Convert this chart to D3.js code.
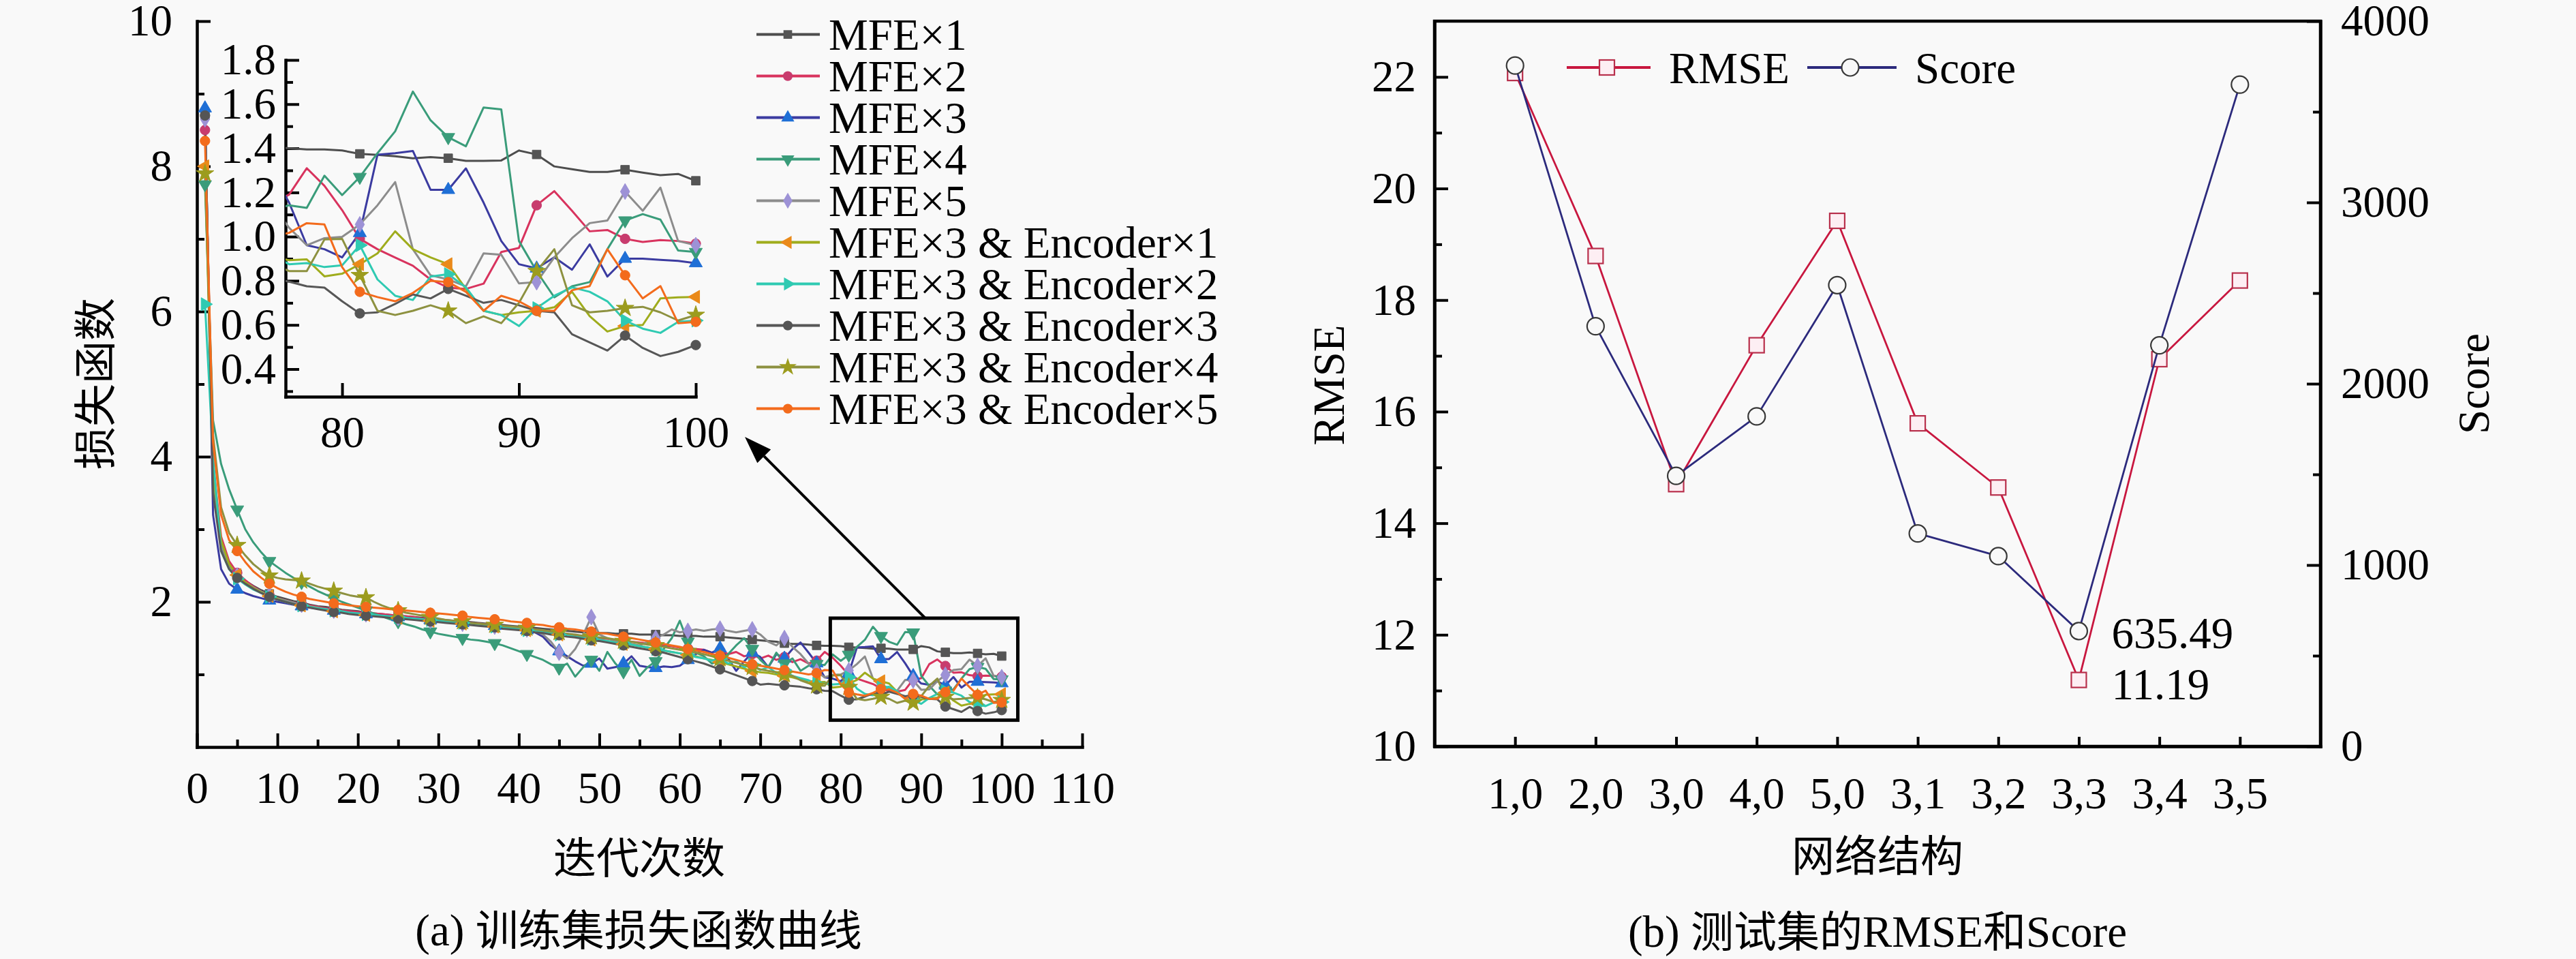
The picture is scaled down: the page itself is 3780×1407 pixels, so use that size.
<!DOCTYPE html>
<meta charset="utf-8">
<title>训练集损失函数曲线 / 测试集的RMSE和Score</title>
<script src="https://d3js.org/d3.v7.min.js"></script>
<style>
    body { margin: 0; background: #f9f9f9; }
    svg text { font-family: "Liberation Serif", "Times New Roman", "DejaVu Serif", serif; font-size: 65px; fill: #000; }
    svg text.cjk { font-family: "Noto Sans CJK SC", sans-serif; font-size: 63px; }
    .axis .domain { stroke: #000; stroke-width: 4.5px; stroke-linecap: square; }
    .axis line { stroke: #000; stroke-width: 4px; }
    .line { fill: none; stroke-width: 3px; stroke-linejoin: round; }
</style>
<body>
<script>
    // ---- data: training loss per epoch (1..100) ----
    var mfe1 = [8.70, 3.60, 2.75, 2.50, 2.38, 2.29, 2.22, 2.16, 2.11, 2.07,
        2.04, 2.01, 1.99, 1.96, 1.94, 1.93, 1.91, 1.89, 1.88, 1.87,
        1.85, 1.84, 1.83, 1.82, 1.81, 1.80, 1.79, 1.78, 1.77, 1.76,
        1.75, 1.74, 1.73, 1.72, 1.71, 1.70, 1.69, 1.68, 1.67, 1.66,
        1.65, 1.64, 1.63, 1.62, 1.61, 1.60, 1.59, 1.58, 1.58, 1.57,
        1.57, 1.56, 1.56, 1.56, 1.55, 1.55, 1.55, 1.54, 1.54, 1.53,
        1.53, 1.53, 1.52, 1.52, 1.52, 1.51, 1.50, 1.49, 1.48, 1.47,
        1.46, 1.45, 1.43, 1.42, 1.42, 1.41, 1.40, 1.395, 1.395, 1.39,
        1.375, 1.37, 1.364, 1.355, 1.36, 1.355, 1.343, 1.343, 1.345, 1.39,
        1.372, 1.318, 1.305, 1.293, 1.293, 1.303, 1.29, 1.278, 1.284, 1.253];
    var mfe2 = [8.50, 3.90, 2.90, 2.56, 2.40, 2.30, 2.21, 2.14, 2.09, 2.05,
        2.02, 1.99, 1.97, 1.95, 1.93, 1.91, 1.90, 1.88, 1.87, 1.86,
        1.85, 1.84, 1.83, 1.82, 1.81, 1.80, 1.79, 1.77, 1.76, 1.75,
        1.74, 1.73, 1.72, 1.71, 1.70, 1.69, 1.68, 1.66, 1.65, 1.64,
        1.63, 1.62, 1.60, 1.59, 1.57, 1.56, 1.54, 1.53, 1.52, 1.50,
        1.49, 1.48, 1.47, 1.45, 1.44, 1.43, 1.42, 1.40, 1.39, 1.37,
        1.36, 1.35, 1.34, 1.30, 1.33, 1.28, 1.31, 1.25, 1.28, 1.22,
        1.26, 1.20, 1.24, 1.17, 1.21, 1.15, 1.19, 1.31, 1.23, 1.12,
        0.99, 0.943, 0.905, 0.868, 0.806, 0.769, 0.763, 0.787, 0.93, 0.949,
        1.142, 1.206, 1.117, 1.024, 1.03, 0.99, 0.976, 0.984, 0.98, 0.968];
    var mfe3 = [8.80, 3.20, 2.45, 2.25, 2.17, 2.12, 2.08, 2.05, 2.02, 2.00,
        1.98, 1.96, 1.94, 1.92, 1.91, 1.89, 1.88, 1.86, 1.85, 1.84,
        1.83, 1.82, 1.81, 1.80, 1.79, 1.78, 1.77, 1.76, 1.75, 1.74,
        1.73, 1.72, 1.71, 1.70, 1.69, 1.68, 1.67, 1.66, 1.64, 1.63,
        1.61, 1.58, 1.52, 1.40, 1.32, 1.25, 1.18, 1.12, 1.15, 1.22,
        1.08, 1.10, 1.15, 1.25, 1.12, 1.10, 1.09, 1.11, 1.10, 1.12,
        1.20, 1.28, 1.34, 1.30, 1.36, 1.22, 1.05, 1.18, 1.30, 1.24,
        1.10, 1.28, 1.22, 1.35, 1.44, 1.30, 1.154, 0.961, 0.943, 0.906,
        1.017, 1.371, 1.378, 1.388, 1.212, 1.212, 1.309, 1.154, 0.98, 0.875,
        0.856, 0.906, 0.85, 0.965, 0.819, 0.90, 0.90, 0.895, 0.89, 0.88];
    var mfe4 = [7.75, 4.50, 3.90, 3.55, 3.27, 3.00, 2.82, 2.68, 2.56, 2.48,
        2.40, 2.33, 2.27, 2.21, 2.15, 2.10, 2.05, 2.00, 1.96, 1.92,
        1.88, 1.84, 1.80, 1.76, 1.73, 1.69, 1.66, 1.62, 1.59, 1.56,
        1.54, 1.52, 1.50, 1.48, 1.47, 1.45, 1.43, 1.40, 1.36, 1.32,
        1.28, 1.24, 1.20, 1.14, 1.09, 1.15, 0.97, 1.10, 1.20, 1.05,
        1.31, 1.15, 1.04, 1.20, 0.98, 1.10, 1.18, 1.35, 1.50, 1.74,
        1.45, 1.30, 1.25, 1.15, 1.20, 1.28, 1.40, 1.50, 1.35, 1.20,
        1.10, 1.30, 1.15, 1.22, 1.05, 1.12, 1.142, 1.13, 1.276, 1.188,
        1.27, 1.378, 1.477, 1.657, 1.527, 1.45, 1.409, 1.585, 1.576, 0.98,
        0.843, 0.725, 0.775, 0.794, 0.943, 1.073, 1.102, 1.077, 0.937, 0.93];
    var mfe5 = [8.65, 3.70, 2.80, 2.48, 2.36, 2.27, 2.20, 2.14, 2.09, 2.05,
        2.02, 1.99, 1.96, 1.94, 1.92, 1.90, 1.88, 1.86, 1.85, 1.84,
        1.83, 1.82, 1.80, 1.79, 1.78, 1.77, 1.76, 1.75, 1.74, 1.73,
        1.72, 1.71, 1.70, 1.69, 1.68, 1.67, 1.66, 1.65, 1.64, 1.63,
        1.62, 1.60, 1.55, 1.45, 1.30, 1.22, 1.35, 1.55, 1.79, 1.55,
        1.50, 1.45, 1.48, 1.42, 1.40, 1.45, 1.50, 1.55, 1.62, 1.58,
        1.60, 1.62, 1.60, 1.62, 1.63, 1.60, 1.58, 1.60, 1.62, 1.55,
        1.45, 1.40, 1.50, 1.38, 1.28, 1.15, 1.04, 0.961, 0.993, 0.999,
        1.055, 1.142, 1.247, 0.943, 0.825, 0.806, 0.775, 0.924, 0.918, 0.788,
        0.794, 0.906, 0.993, 1.061, 1.073, 1.204, 1.117, 1.222, 0.98, 0.961];
    var enc1 = [8.00, 3.80, 2.85, 2.52, 2.37, 2.27, 2.19, 2.13, 2.08, 2.04,
        2.00, 1.97, 1.95, 1.93, 1.91, 1.89, 1.87, 1.86, 1.84, 1.83,
        1.82, 1.81, 1.80, 1.79, 1.78, 1.77, 1.76, 1.75, 1.74, 1.73,
        1.72, 1.71, 1.70, 1.69, 1.68, 1.67, 1.66, 1.65, 1.63, 1.62,
        1.61, 1.59, 1.58, 1.56, 1.55, 1.53, 1.52, 1.50, 1.48, 1.47,
        1.46, 1.44, 1.42, 1.41, 1.39, 1.37, 1.35, 1.33, 1.31, 1.29,
        1.27, 1.25, 1.22, 1.20, 1.17, 1.14, 1.11, 1.08, 1.05, 1.03,
        1.02, 1.00, 0.98, 0.96, 0.93, 0.91, 0.893, 0.897, 0.82, 0.832,
        0.875, 0.924, 1.024, 0.943, 0.906, 0.875, 0.763, 0.664, 0.645, 0.657,
        0.664, 0.68, 0.75, 0.64, 0.57, 0.595, 0.60, 0.72, 0.725, 0.727];
    var enc2 = [6.10, 4.00, 2.70, 2.45, 2.32, 2.24, 2.17, 2.12, 2.07, 2.03,
        2.00, 1.97, 1.95, 1.93, 1.91, 1.90, 1.88, 1.87, 1.85, 1.84,
        1.83, 1.82, 1.81, 1.80, 1.79, 1.78, 1.77, 1.76, 1.75, 1.74,
        1.73, 1.72, 1.71, 1.70, 1.69, 1.68, 1.66, 1.65, 1.64, 1.62,
        1.61, 1.60, 1.58, 1.57, 1.55, 1.54, 1.52, 1.51, 1.49, 1.48,
        1.46, 1.44, 1.43, 1.41, 1.39, 1.37, 1.35, 1.33, 1.31, 1.29,
        1.27, 1.24, 1.22, 1.19, 1.22, 1.15, 1.18, 1.10, 1.14, 1.06,
        1.10, 1.02, 1.06, 0.98, 0.95, 0.92, 0.875, 0.88, 0.862, 0.87,
        0.961, 0.806, 0.732, 0.713, 0.819, 0.83, 0.77, 0.664, 0.645, 0.595,
        0.676, 0.732, 0.77, 0.75, 0.707, 0.62, 0.583, 0.564, 0.614, 0.62];
    var enc3 = [8.70, 3.50, 2.70, 2.45, 2.33, 2.25, 2.18, 2.12, 2.07, 2.03,
        2.00, 1.97, 1.94, 1.92, 1.90, 1.88, 1.86, 1.85, 1.83, 1.82,
        1.81, 1.80, 1.79, 1.78, 1.77, 1.76, 1.75, 1.74, 1.73, 1.72,
        1.71, 1.70, 1.69, 1.68, 1.67, 1.66, 1.65, 1.63, 1.62, 1.61,
        1.60, 1.58, 1.57, 1.55, 1.54, 1.52, 1.51, 1.49, 1.47, 1.46,
        1.44, 1.42, 1.40, 1.38, 1.36, 1.34, 1.32, 1.30, 1.27, 1.24,
        1.21, 1.18, 1.15, 1.11, 1.07, 1.03, 0.99, 0.95, 0.91, 0.86,
        0.87, 0.86, 0.85, 0.84, 0.83, 0.81, 0.796, 0.775, 0.769, 0.707,
        0.652, 0.657, 0.695, 0.738, 0.72, 0.763, 0.732, 0.70, 0.713, 0.689,
        0.664, 0.657, 0.558, 0.521, 0.484, 0.552, 0.496, 0.459, 0.478, 0.509];
    var enc4 = [7.90, 4.30, 3.30, 2.95, 2.78, 2.64, 2.52, 2.43, 2.36, 2.33,
        2.31, 2.30, 2.29, 2.25, 2.21, 2.18, 2.15, 2.12, 2.09, 2.07,
        2.06, 2.00, 1.95, 1.91, 1.88, 1.85, 1.83, 1.81, 1.79, 1.77,
        1.75, 1.74, 1.73, 1.71, 1.70, 1.69, 1.68, 1.67, 1.66, 1.65,
        1.64, 1.62, 1.61, 1.59, 1.58, 1.56, 1.55, 1.53, 1.52, 1.51,
        1.50, 1.48, 1.46, 1.45, 1.43, 1.41, 1.40, 1.38, 1.36, 1.34,
        1.32, 1.30, 1.28, 1.25, 1.22, 1.19, 1.16, 1.13, 1.10, 1.07,
        1.05, 1.03, 1.00, 0.98, 0.92, 0.88, 0.844, 0.844, 0.987, 0.99,
        0.825, 0.664, 0.645, 0.664, 0.689, 0.664, 0.608, 0.639, 0.608, 0.70,
        0.843, 0.943, 0.689, 0.657, 0.664, 0.676, 0.682, 0.657, 0.62, 0.645];
    var enc5 = [8.35, 4.20, 3.20, 2.85, 2.70, 2.55, 2.42, 2.33, 2.25, 2.19,
        2.14, 2.10, 2.07, 2.04, 2.02, 2.00, 1.98, 1.97, 1.95, 1.94,
        1.93, 1.92, 1.91, 1.90, 1.89, 1.88, 1.87, 1.86, 1.85, 1.84,
        1.83, 1.82, 1.81, 1.79, 1.78, 1.77, 1.76, 1.75, 1.73, 1.72,
        1.71, 1.69, 1.68, 1.66, 1.65, 1.63, 1.62, 1.60, 1.59, 1.57,
        1.56, 1.54, 1.52, 1.50, 1.48, 1.46, 1.44, 1.42, 1.40, 1.38,
        1.35, 1.33, 1.31, 1.28, 1.26, 1.23, 1.20, 1.17, 1.14, 1.12,
        1.10, 1.08, 1.06, 1.04, 1.02, 1.00, 1.017, 1.061, 1.055, 0.862,
        0.75, 0.726, 0.707, 0.745, 0.80, 0.794, 0.75, 0.664, 0.732, 0.707,
        0.664, 0.664, 0.757, 0.776, 0.943, 0.825, 0.72, 0.776, 0.608, 0.614];

    var seriesNames = ["MFE\u00d71", "MFE\u00d72", "MFE\u00d73", "MFE\u00d74", "MFE\u00d75",
        "MFE\u00d73 & Encoder\u00d71", "MFE\u00d73 & Encoder\u00d72", "MFE\u00d73 & Encoder\u00d73",
        "MFE\u00d73 & Encoder\u00d74", "MFE\u00d73 & Encoder\u00d75"];
    var seriesValues = [mfe1, mfe2, mfe3, mfe4, mfe5, enc1, enc2, enc3, enc4, enc5];
    var zoomWindow = {x0: 78.7, x1: 102, y0: 0.37, y1: 1.775};

    // ---- data: test set RMSE / Score per structure ----
    var structures = ["1,0", "2,0", "3,0", "4,0", "5,0", "3,1", "3,2", "3,3", "3,4", "3,5"];
    var rmse = [22.07, 18.79, 14.70, 17.19, 19.42, 15.79, 14.64, 11.19, 16.94, 18.35];
    var score = [3755, 2317, 1492, 1820, 2544, 1174, 1049, 635.49, 2212, 3650];

    // ---- styles ----
    var lineColors = ["#4d4d4d", "#d8335e", "#3b3ba0", "#3a9c7a", "#8c8c8c",
        "#9fac1c", "#2fcab2", "#575757", "#8d9140", "#f36b1c"];
    var markColors = ["#555555", "#c83c6e", "#1f6fd6", "#3a9c7a", "#9d92d6",
        "#ea8a1a", "#2fcab2", "#555555", "#9c9c1e", "#f36b1c"];
    var markTypes = [d3.symbolSquare, d3.symbolCircle, d3.symbolTriangle, d3.symbolTriangle, d3.symbolDiamond,
        d3.symbolTriangle, d3.symbolTriangle, d3.symbolCircle, d3.symbolStar, d3.symbolCircle];
    var markRot = [0, 0, 0, 180, 0, -90, 90, 0, 0, 0];

    var W = 3780, H = 1407;
    var svg = d3.select("body").append("svg").attr("width", W).attr("height", H);

    var x = d3.scaleLinear().domain([0, 110]).range([289, 1588]);
    var y = d3.scaleLinear().domain([0, 10]).range([1096, 31]);
    var xi = d3.scaleLinear().domain([76.8, 100]).range([419, 1021]);
    var yi = d3.scaleLinear().domain([0.275, 1.8]).range([582, 88]);

    function axis(gen, scale, pos, major, minor, fmt, pad, len) {
        if (minor) {
            svg.append("g").attr("class", "axis").attr("transform", pos)
                .call(gen(scale).tickValues(minor).tickSize(-11).tickFormat(""))
                .select(".domain").remove();
        }
        var g = svg.append("g").attr("class", "axis").attr("transform", pos)
            .call(gen(scale).tickValues(major).tickSizeInner(-(len || 20)).tickSizeOuter(0).tickPadding(pad).tickFormat(fmt));
        g.attr("font-size", null).attr("font-family", null);
        return g;
    }

    function markerPath(i) {
        return d3.symbol().type(markTypes[i]).size(i == 8 ? 210 : 160)();
    }

    // ---- (a) main loss chart ----
    axis(d3.axisLeft, y, "translate(289,0)", [2, 4, 6, 8, 10], [1, 3, 5, 7, 9], d3.format("d"), 36);
    axis(d3.axisBottom, x, "translate(0,1096)", d3.range(0, 111, 10), d3.range(5, 110, 10), d3.format("d"), 36);

    var mainLine = d3.line().x(function(d, i) { return x(i + 1); }).y(function(d) { return y(d); });
    seriesValues.forEach(function(vals, s) {
        svg.append("path").attr("class", "line").attr("d", mainLine(vals)).style("stroke", lineColors[s]);
    });
    seriesValues.forEach(function(vals, s) {
        svg.append("g").selectAll("path")
            .data(vals.map(function(v, i) { return {e: i + 1, v: v}; })
                .filter(function(d) { return (d.e - 1) % 4 == 0 || d.e == 100; }))
            .enter().append("path")
            .attr("d", markerPath(s))
            .attr("transform", function(d) { return "translate(" + x(d.e) + "," + y(d.v) + ") rotate(" + markRot[s] + ")"; })
            .style("fill", markColors[s]).style("stroke", markColors[s]).style("stroke-width", 1);
    });

    // zoom window and arrow
    svg.append("rect")
        .attr("x", x(zoomWindow.x0)).attr("y", y(zoomWindow.y1))
        .attr("width", x(zoomWindow.x1) - x(zoomWindow.x0))
        .attr("height", y(zoomWindow.y0) - y(zoomWindow.y1))
        .style("fill", "none").style("stroke", "#000").style("stroke-width", 5);

    var tail = [x(90.5), y(zoomWindow.y1)];
    var head = [xi(100) + 72, yi(0.275) + 59];
    var ang = Math.atan2(head[1] - tail[1], head[0] - tail[0]);
    var hl = 40, hw = 14;
    var base = [head[0] - hl * Math.cos(ang), head[1] - hl * Math.sin(ang)];
    svg.append("line").attr("x1", tail[0]).attr("y1", tail[1]).attr("x2", base[0]).attr("y2", base[1])
        .style("stroke", "#000").style("stroke-width", 4);
    svg.append("path")
        .attr("d", "M" + head + "L" + [base[0] + hw * Math.sin(ang), base[1] - hw * Math.cos(ang)] +
            "L" + [base[0] - hw * Math.sin(ang), base[1] + hw * Math.cos(ang)] + "Z")
        .style("fill", "#000");

    // ---- inset ----
    axis(d3.axisLeft, yi, "translate(419,0)", [0.4, 0.6, 0.8, 1.0, 1.2, 1.4, 1.6, 1.8],
        [0.3, 0.5, 0.7, 0.9, 1.1, 1.3, 1.5, 1.7], d3.format(".1f"), 14);
    axis(d3.axisBottom, xi, "translate(0,582)", [80, 90, 100], null, d3.format("d"), 28);

    svg.append("clipPath").attr("id", "insetClip").append("rect")
        .attr("x", 419).attr("y", 60).attr("width", 1021 - 419 + 20).attr("height", 582 - 60);
    var inset = svg.append("g").attr("clip-path", "url(#insetClip)");
    var insetLine = d3.line().x(function(d) { return xi(d.e); }).y(function(d) { return yi(d.v); });
    var insetData = seriesValues.map(function(vals) {
        return vals.map(function(v, i) { return {e: i + 1, v: v}; }).filter(function(d) { return d.e >= 76; });
    });
    insetData.forEach(function(pts, s) {
        inset.append("path").attr("class", "line").attr("d", insetLine(pts)).style("stroke", lineColors[s]);
    });
    insetData.forEach(function(pts, s) {
        svg.append("g").selectAll("path")
            .data(pts.filter(function(d) { return d.e > 77 && ((d.e - 1) % 5 == 0 || d.e == 100); }))
            .enter().append("path")
            .attr("d", markerPath(s))
            .attr("transform", function(d) { return "translate(" + xi(d.e) + "," + yi(d.v) + ") rotate(" + markRot[s] + ")"; })
            .style("fill", markColors[s]).style("stroke", markColors[s]).style("stroke-width", 1);
    });

    // legend
    var leg = svg.append("g").selectAll("g").data(seriesNames).enter().append("g")
        .attr("transform", function(d, i) { return "translate(1110," + (50.6 + i * 61) + ")"; });
    leg.append("line").attr("x1", 0).attr("x2", 93)
        .style("stroke", function(d, i) { return lineColors[i]; }).style("stroke-width", 4);
    leg.append("path").attr("d", function(d, i) { return markerPath(i); })
        .attr("transform", function(d, i) { return "translate(46,0) rotate(" + markRot[i] + ")"; })
        .style("fill", function(d, i) { return markColors[i]; });
    leg.append("text").attr("x", 106).attr("dy", "0.35em").text(function(d) { return d; });

    svg.append("text").attr("class", "cjk").attr("text-anchor", "middle").attr("dy", "0.35em")
        .attr("transform", "translate(140,563) rotate(-90)").text("损失函数");
    svg.append("text").attr("class", "cjk").attr("text-anchor", "middle").attr("dy", "0.35em")
        .attr("x", 938).attr("y", 1259).text("迭代次数");
    svg.append("text").attr("text-anchor", "middle").attr("dy", "0.35em")
        .attr("x", 937).attr("y", 1364)
        .call(function(t) {
            t.append("tspan").text("(a) ");
            t.append("tspan").style("font-family", "Noto Sans CJK SC").style("font-size", "63px").text("训练集损失函数曲线");
        });

    // ---- (b) RMSE / Score chart ----
    var xr = d3.scalePoint().domain(structures).range([2105, 3405]).padding(1);
    var yl = d3.scaleLinear().domain([10, 23]).range([1095, 31]);
    var yr = d3.scaleLinear().domain([0, 4000]).range([1095, 31]);

    svg.append("rect").attr("x", 2105).attr("y", 31).attr("width", 3405 - 2105).attr("height", 1095 - 31)
        .style("fill", "none").style("stroke", "#000").style("stroke-width", 4.5);
    axis(d3.axisLeft, yl, "translate(2105,0)", [10, 12, 14, 16, 18, 20, 22], [11, 13, 15, 17, 19, 21], d3.format("d"), 27);
    axis(d3.axisRight, yr, "translate(3405,0)", [0, 1000, 2000, 3000, 4000], [500, 1500, 2500, 3500], d3.format("d"), 30);
    axis(d3.axisBottom, xr, "translate(0,1095)", structures, null, null, 45, 14);

    var rmseColor = "#c8173f", scoreColor = "#2c2a7c";
    var rmseLine = d3.line().x(function(d, i) { return xr(structures[i]); }).y(function(d) { return yl(d); });
    var scoreLine = d3.line().x(function(d, i) { return xr(structures[i]); }).y(function(d) { return yr(d); });

    svg.append("path").attr("class", "line").attr("d", rmseLine(rmse)).style("stroke", rmseColor).style("stroke-width", 2.8);
    svg.append("g").selectAll("rect").data(rmse).enter().append("rect")
        .attr("x", function(d, i) { return xr(structures[i]) - 11; })
        .attr("y", function(d) { return yl(d) - 11; })
        .attr("width", 22).attr("height", 22)
        .style("fill", "#fdeef3").style("stroke", "#b8304c").style("stroke-width", 2.2);

    svg.append("path").attr("class", "line").attr("d", scoreLine(score)).style("stroke", scoreColor).style("stroke-width", 2.8);
    svg.append("g").selectAll("circle").data(score).enter().append("circle")
        .attr("cx", function(d, i) { return xr(structures[i]); })
        .attr("cy", function(d) { return yr(d); })
        .attr("r", 12.5)
        .style("fill", "#f8f8f8").style("stroke", "#383838").style("stroke-width", 2.2);

    // legend (b)
    var lg = svg.append("g").attr("transform", "translate(2299,99)");
    lg.append("line").attr("x1", 0).attr("x2", 123).style("stroke", rmseColor).style("stroke-width", 4);
    lg.append("rect").attr("x", 59 - 11).attr("y", -11).attr("width", 22).attr("height", 22)
        .style("fill", "#fdeef3").style("stroke", "#b8304c").style("stroke-width", 2.2);
    lg.append("text").attr("x", 150).attr("dy", "0.35em").text("RMSE");
    lg.append("line").attr("x1", 353).attr("x2", 484).style("stroke", scoreColor).style("stroke-width", 4);
    lg.append("circle").attr("cx", 416).attr("r", 12.5)
        .style("fill", "#f8f8f8").style("stroke", "#383838").style("stroke-width", 2.2);
    lg.append("text").attr("x", 511).attr("dy", "0.35em").text("Score");

    // minimum annotations
    var best = structures.indexOf("3,3");
    svg.append("text").attr("x", xr(structures[best]) + 48).attr("y", yr(score[best]) + 2).attr("dy", "0.35em")
        .text(d3.format(".2f")(score[best]));
    svg.append("text").attr("x", xr(structures[best]) + 48).attr("y", yl(rmse[best]) + 6).attr("dy", "0.35em")
        .text(d3.format(".2f")(rmse[best]));

    svg.append("text").attr("text-anchor", "middle").attr("dy", "0.35em")
        .attr("transform", "translate(1949,565) rotate(-90)").text("RMSE");
    svg.append("text").attr("text-anchor", "middle").attr("dy", "0.35em")
        .attr("transform", "translate(3629,563) rotate(-90)").text("Score");
    svg.append("text").attr("class", "cjk").attr("text-anchor", "middle").attr("dy", "0.35em")
        .attr("x", 2755).attr("y", 1256).text("网络结构");
    svg.append("text").attr("text-anchor", "middle").attr("dy", "0.35em")
        .attr("x", 2755).attr("y", 1366)
        .call(function(t) {
            t.append("tspan").text("(b) ");
            t.append("tspan").style("font-family", "Noto Sans CJK SC").style("font-size", "63px").text("测试集的");
            t.append("tspan").text("RMSE");
            t.append("tspan").style("font-family", "Noto Sans CJK SC").style("font-size", "63px").text("和");
            t.append("tspan").text("Score");
        });
</script>
</body>
